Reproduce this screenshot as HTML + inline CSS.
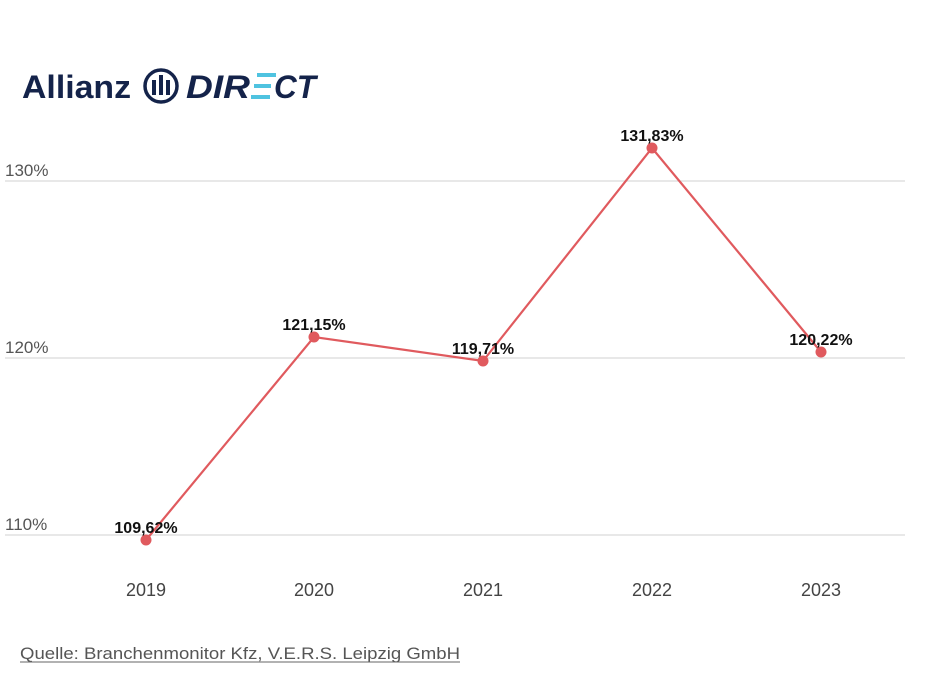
<!DOCTYPE html>
<html><head><meta charset="utf-8"><style>
html,body{margin:0;padding:0;background:#fff;}
body{width:939px;height:675px;overflow:hidden;position:relative;font-family:"Liberation Sans",sans-serif;}
</style></head><body>
<svg width="939" height="675" viewBox="0 0 939 675" xmlns="http://www.w3.org/2000/svg" style="position:absolute;left:0;top:0">
<text x="22" y="98" font-family="Liberation Sans, sans-serif" font-weight="bold" font-size="32" fill="#14234a" textLength="109" lengthAdjust="spacingAndGlyphs">Allianz</text>
<circle cx="161" cy="86" r="16" fill="none" stroke="#14234a" stroke-width="3.5"/>
<rect x="152" y="80" width="4" height="15" fill="#14234a"/>
<rect x="159" y="75" width="4" height="20" fill="#14234a"/>
<rect x="166" y="80" width="4" height="15" fill="#14234a"/>
<text x="186" y="98" font-family="Liberation Sans, sans-serif" font-weight="bold" font-style="italic" font-size="32" fill="#14234a" textLength="64" lengthAdjust="spacingAndGlyphs">DIR</text>
<g fill="#4fc3e0"><rect x="257" y="73" width="19" height="4"/><rect x="254" y="84" width="17" height="4"/><rect x="251" y="95" width="19" height="4"/></g>
<text x="274" y="98" font-family="Liberation Sans, sans-serif" font-weight="bold" font-style="italic" font-size="32" fill="#14234a" textLength="42" lengthAdjust="spacingAndGlyphs">CT</text>
<g stroke="#d9d9d9" stroke-width="1.2">
<line x1="5" y1="181" x2="905" y2="181"/><line x1="5" y1="358" x2="905" y2="358"/><line x1="5" y1="535" x2="905" y2="535"/>
</g>
<g font-size="17" fill="#555">
<text x="5" y="176">130%</text><text x="5" y="353">120%</text><text x="5" y="530">110%</text>
</g>
<polyline points="146,540 314,337 483,361 652,148 821,352" fill="none" stroke="#e05a5e" stroke-width="2.2"/>
<g fill="#e05a5e"><circle cx="146" cy="540" r="5.5"/><circle cx="314" cy="337" r="5.5"/><circle cx="483" cy="361" r="5.5"/><circle cx="652" cy="148" r="5.5"/><circle cx="821" cy="352" r="5.5"/></g>
<g font-size="16" fill="#111" text-anchor="middle" font-weight="bold">
<text x="146" y="533">109,62%</text><text x="314" y="330">121,15%</text><text x="483" y="354">119,71%</text><text x="652" y="141">131,83%</text><text x="821" y="345">120,22%</text>
</g>
<g font-size="18" fill="#444" text-anchor="middle">
<text x="146" y="596">2019</text><text x="314" y="596">2020</text><text x="483" y="596">2021</text><text x="652" y="596">2022</text><text x="821" y="596">2023</text>
</g>
<text x="20" y="659" font-size="17" fill="#555" textLength="440" lengthAdjust="spacingAndGlyphs">Quelle: Branchenmonitor Kfz, V.E.R.S. Leipzig GmbH</text>
<line x1="20" y1="662" x2="460" y2="662" stroke="#666" stroke-width="1"/>
</svg>
</body></html>
